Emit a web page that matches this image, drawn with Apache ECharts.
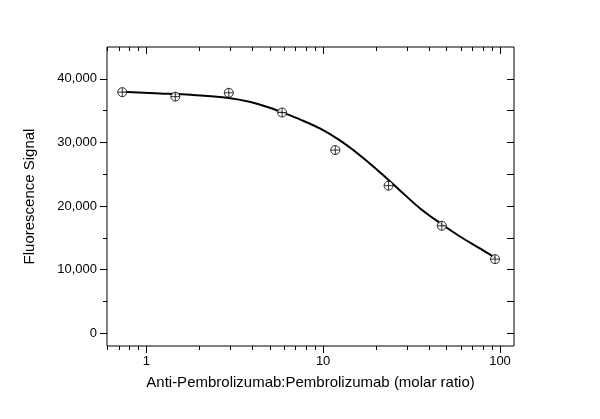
<!DOCTYPE html>
<html>
<head>
<meta charset="utf-8">
<script src="https://cdn.jsdelivr.net/npm/echarts@6/dist/echarts.min.js"></script>
<style>
    html, body { margin: 0; padding: 0; background: #fff; }
    #chart { width: 600px; height: 419px; }
</style>
</head>
<body>
<div id="chart"></div>
<script>
// measured points (molar ratio vs signal)
const ratios = [0.732, 1.46, 2.93, 5.86, 11.72, 23.44, 46.88, 93.75];
const signals = [37900, 37200, 37800, 34700, 28800, 23200, 16900, 11650];

// fitted curve
const curveX = [0.732, 1.2, 1.78, 2.92, 3.89, 5.04, 6.12, 7.44, 9.65, 12.5, 16.25, 21.1, 27.3, 35.5, 46, 59.7, 77.4, 94.1];
const curveY = [37950, 37700, 37480, 37000, 36350, 35400, 34530, 33590, 32170, 30280, 27920, 25240, 22410, 19580, 17290, 15170, 13310, 11860];

// tick positions
const xMajor = [1, 10, 100];
const xMinor = [0.6, 0.7, 0.8, 0.9, 2, 3, 4, 5, 6, 7, 8, 9, 20, 30, 40, 50, 60, 70, 80, 90];
const yMajor = [0, 10000, 20000, 30000, 40000];
const yMinor = [5000, 15000, 25000, 35000];

const X_MIN = 0.6, X_MAX = 120;
const Y_MIN = -2000, Y_MAX = 45000;

const font = 'Liberation Sans, Arial, sans-serif';
const black = '#000';
const box = { left: 107, right: 86, top: 47, bottom: 73 };

function xAxisOf(grid, pos, ticks, len, inside, extra) {
    return Object.assign({
        type: 'log',
        gridIndex: grid,
        position: pos,
        min: X_MIN,
        max: X_MAX,
        logBase: 10,
        axisLine: { show: false, onZero: false },
        axisTick: { show: true, customValues: ticks, length: len, inside: inside,
            lineStyle: { color: black, width: 1 } },
        axisLabel: { show: false },
        splitLine: { show: false },
        minorTick: { show: false }
    }, extra || {});
}

function yAxisOf(grid, pos, ticks, len, inside, extra) {
    return Object.assign({
        type: 'value',
        gridIndex: grid,
        position: pos,
        min: Y_MIN,
        max: Y_MAX,
        axisLine: { show: false, onZero: false },
        axisTick: { show: true, customValues: ticks, length: len, inside: inside,
            lineStyle: { color: black, width: 1 } },
        axisLabel: { show: false },
        splitLine: { show: false }
    }, extra || {});
}

const chart = echarts.init(document.getElementById('chart'));
chart.setOption({
    animation: false,
    backgroundColor: '#fff',
    grid: [
        Object.assign({ show: true, borderColor: black, borderWidth: 1, backgroundColor: 'transparent' }, box),
        Object.assign({ show: false }, box)
    ],
    xAxis: [
        xAxisOf(0, 'bottom', xMajor, 7, false, {
            axisLabel: { show: true, customValues: xMajor, margin: 9,
                color: black, fontSize: 13, fontFamily: font,
                formatter: (v) => String(v) },
            name: 'Anti-Pembrolizumab:Pembrolizumab (molar ratio)',
            nameLocation: 'middle',
            nameGap: 29,
            nameTextStyle: { color: black, fontSize: 15, fontFamily: font }
        }),
        xAxisOf(0, 'top', xMajor, 7, true),
        xAxisOf(1, 'bottom', xMinor, 4, false),
        xAxisOf(1, 'top', xMinor, 4, true)
    ],
    yAxis: [
        yAxisOf(0, 'left', yMajor, 7, false, {
            axisLabel: { show: true, customValues: yMajor, margin: 10,
                color: black, fontSize: 13, fontFamily: font,
                formatter: (v) => v.toLocaleString('en-US') },
            name: 'Fluorescence Signal',
            nameLocation: 'middle',
            nameGap: 70,
            nameRotate: 90,
            nameTextStyle: { color: black, fontSize: 15, fontFamily: font }
        }),
        yAxisOf(0, 'right', yMajor.concat(yMinor), 7, true),
        yAxisOf(1, 'left', yMinor, 4, false)
    ],
    series: [
        {
            type: 'line',
            xAxisIndex: 0,
            yAxisIndex: 0,
            data: curveX.map((x, i) => [x, curveY[i]]),
            smooth: 0.3,
            showSymbol: false,
            lineStyle: { color: black, width: 2 },
            z: 2
        },
        {
            type: 'scatter',
            xAxisIndex: 0,
            yAxisIndex: 0,
            data: ratios.map((x, i) => [x, signals[i]]),
            symbol: 'path://M0,5 A5,5 0 1,1 10,5 A5,5 0 1,1 0,5 Z M0,5 L10,5 M5,0 L5,10',
            symbolSize: [9, 9],
            itemStyle: { color: '#fff', borderColor: black, borderWidth: 1 },
            z: 3
        }
    ]
});
</script>
</body>
</html>
